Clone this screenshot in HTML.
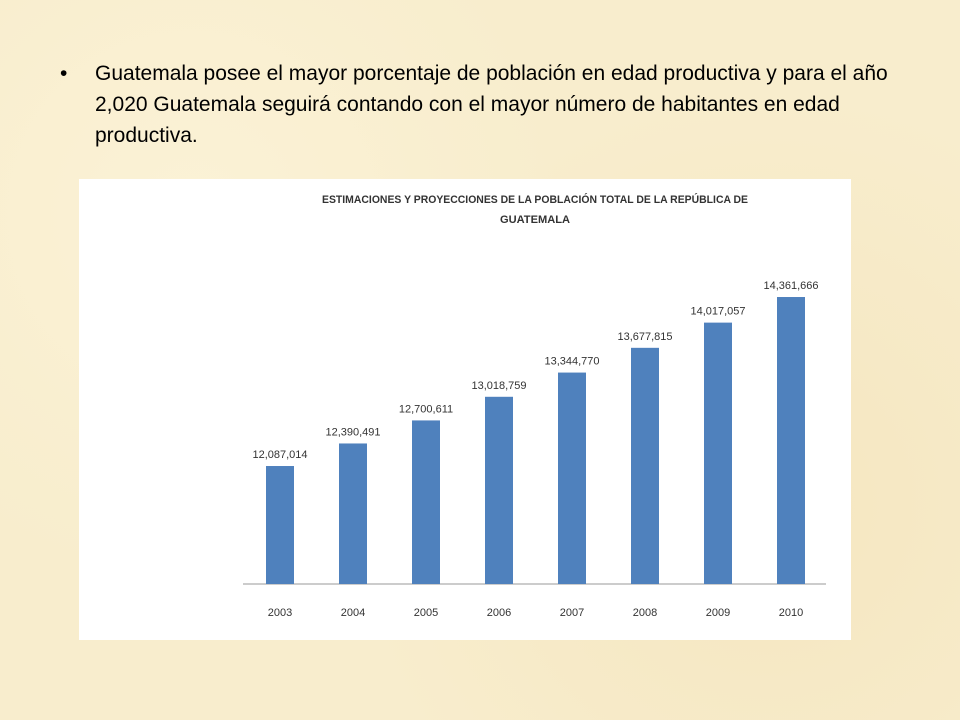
<!DOCTYPE html>
<html><head><meta charset="utf-8"><style>
body{margin:0;width:960px;height:720px;background:#f8edcd;position:relative;overflow:hidden;font-family:"Liberation Sans",sans-serif}
#bg{position:absolute;inset:0;background:radial-gradient(circle at 20% 30%,#fbf2d6 0,transparent 40%),radial-gradient(circle at 80% 70%,#f5e6c0 0,transparent 45%),#f8edcd}
#txt{position:absolute;left:95px;top:58px;width:820px;font-size:21px;line-height:31px;color:#000}
#bul{position:absolute;left:60px;top:58px;font-size:21px;line-height:31px}
#chart{position:absolute;left:79px;top:179px;width:772px;height:461px;background:#fff}
</style></head><body>
<div id="bg"></div>
<div id="bul">•</div>
<div id="txt">Guatemala posee el mayor porcentaje de población en edad productiva y para el año 2,020 Guatemala seguirá contando con el mayor número de habitantes en edad productiva.</div>
<div id="chart">
<svg id="svg" width="772" height="461" xmlns="http://www.w3.org/2000/svg">
<text x="456" y="24" text-anchor="middle" font-family="Liberation Sans Narrow, Liberation Sans, sans-serif" font-weight="bold" font-size="11" fill="#333" textLength="426" lengthAdjust="spacingAndGlyphs">ESTIMACIONES Y PROYECCIONES DE LA POBLACIÓN TOTAL DE LA REPÚBLICA DE</text>
<text x="456" y="44" text-anchor="middle" font-family="Liberation Sans, sans-serif" font-weight="bold" font-size="11" fill="#333" textLength="70" lengthAdjust="spacingAndGlyphs">GUATEMALA</text>
<line x1="164" y1="405" x2="747" y2="405" stroke="#bbb" stroke-width="1.5"/>
<g id="bars"></g>
</svg></div>
<script>
const years=["2003","2004","2005","2006","2007","2008","2009","2010"];
const values=[12087014,12390491,12700611,13018759,13344770,13677815,14017057,14361666];
const labels=["12,087,014","12,390,491","12,700,611","13,018,759","13,344,770","13,677,815","14,017,057","14,361,666"];
const yMin=10499000, baseY=405, pxPer=169/2274652;
const y=v=>baseY-(v-yMin)*pxPer;
const x=i=>201+i*73;
const g=document.getElementById('bars');
const NS="http://www.w3.org/2000/svg";
years.forEach((yr,i)=>{
 const r=document.createElementNS(NS,'rect');
 r.setAttribute('x',x(i)-14);r.setAttribute('width',28);
 r.setAttribute('y',y(values[i]));r.setAttribute('height',baseY-y(values[i]));
 r.setAttribute('fill','#4f81bd');
 
 
 g.appendChild(r);
 const t=document.createElementNS(NS,'text');
 t.setAttribute('x',x(i));t.setAttribute('y',y(values[i])-8);
 t.setAttribute('text-anchor','middle');t.setAttribute('font-size','11');t.setAttribute('fill','#333');
 t.setAttribute('font-family','Liberation Sans Narrow, Liberation Sans, sans-serif');
 t.textContent=labels[i];
 
 
 g.appendChild(t);
 const a=document.createElementNS(NS,'text');
 a.setAttribute('x',x(i));a.setAttribute('y',437);
 a.setAttribute('text-anchor','middle');a.setAttribute('font-size','11');a.setAttribute('fill','#333');
 a.textContent=yr;
 
 
 g.appendChild(a);
});
</script>
</body></html>
